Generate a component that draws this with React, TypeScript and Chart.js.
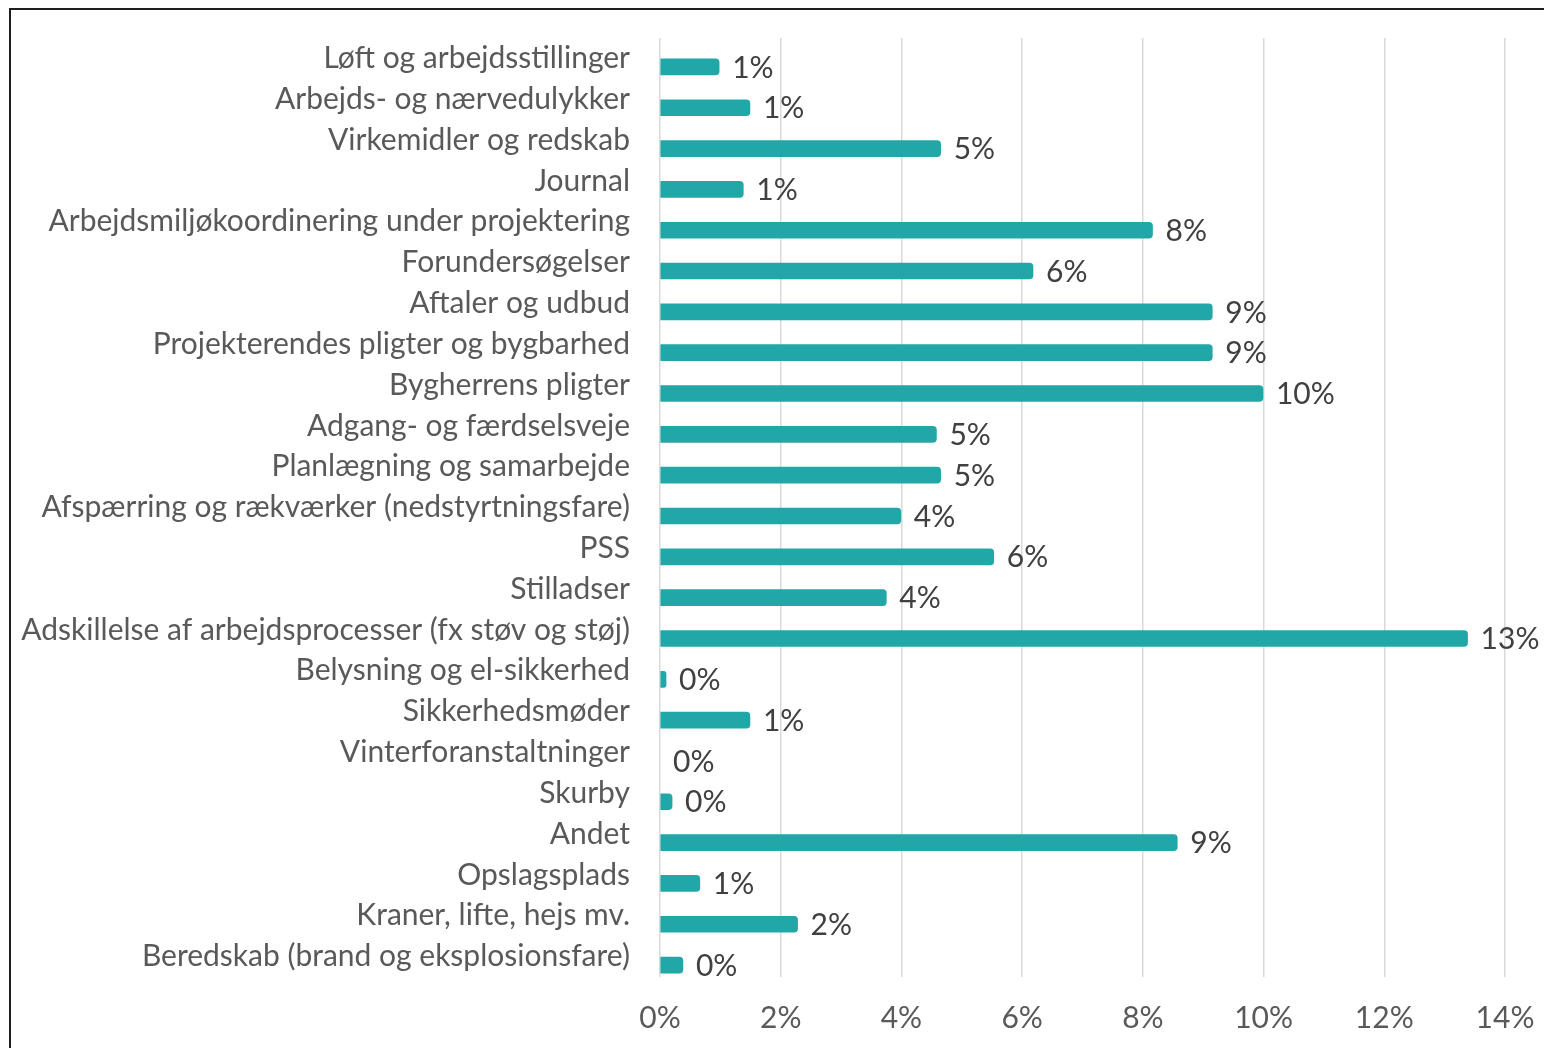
import React, { useEffect, useRef } from "react";
import { Chart, registerables } from "chart.js";

Chart.register(...registerables);

const categories: string[] = [
  "Løft og arbejdsstillinger",
  "Arbejds- og nærvedulykker",
  "Virkemidler og redskab",
  "Journal",
  "Arbejdsmiljøkoordinering under projektering",
  "Forundersøgelser",
  "Aftaler og udbud",
  "Projekterendes pligter og bygbarhed",
  "Bygherrens pligter",
  "Adgang- og færdselsveje",
  "Planlægning og samarbejde",
  "Afspærring og rækværker (nedstyrtningsfare)",
  "PSS",
  "Stilladser",
  "Adskillelse af arbejdsprocesser (fx støv og støj)",
  "Belysning og el-sikkerhed",
  "Sikkerhedsmøder",
  "Vinterforanstaltninger",
  "Skurby",
  "Andet",
  "Opslagsplads",
  "Kraner, lifte, hejs mv.",
  "Beredskab (brand og eksplosionsfare)",
];

const values: number[] = [
  0.98, 1.49, 4.65, 1.38, 8.16, 6.18, 9.15, 9.15, 9.99, 4.58, 4.65, 3.99,
  5.53, 3.75, 13.38, 0.1, 1.49, 0, 0.2, 8.57, 0.66, 2.28, 0.38,
];

const xMin = 0;
const xMax = 14;
const xStep = 2;

const FONT_FAMILY = "Lato, 'Open Sans', sans-serif";
const FONT_SIZE = 30;
const BAR_SHIFT = 8.5;
const BAR_COLOR = "#22A7A9";

export default function App() {
  const canvasRef = useRef<HTMLCanvasElement | null>(null);

  useEffect(() => {
    let chart: Chart | null = null;
    let cancelled = false;

    const valueLabelPlugin = {
      id: "valueLabels",
      beforeDatasetsDraw(c: any) {
        c.ctx.save();
        c.ctx.translate(0, BAR_SHIFT);
      },
      afterDatasetsDraw(c: any) {
        const ctx = c.ctx;
        const meta = c.getDatasetMeta(0);
        ctx.save();
        ctx.font = `${FONT_SIZE}px ${FONT_FAMILY}`;
        ctx.fillStyle = "#404040";
        ctx.textAlign = "left";
        ctx.textBaseline = "middle";
        meta.data.forEach((bar: any, i: number) => {
          const label = Math.round(values[i]) + "%";
          ctx.fillText(label, bar.x + 13, bar.y + 1);
        });
        ctx.restore();
        ctx.restore();
      },
    };

    const zeroPad = (s: any) => {
      s.paddingTop = 0;
      s.paddingBottom = 0;
      s.paddingLeft = 0;
      s.paddingRight = 0;
    };

    const make = () => {
      if (cancelled || !canvasRef.current) return;
      chart = new Chart(canvasRef.current, {
        type: "bar",
        data: {
          labels: categories,
          datasets: [
            {
              data: values,
              backgroundColor: values.map((v) => (v === 0 ? "rgba(0,0,0,0)" : BAR_COLOR)),
              barThickness: 16,
              borderRadius: 4,
              borderSkipped: "start",
            },
          ],
        },
        options: {
          indexAxis: "y",
          responsive: false,
          animation: false,
          devicePixelRatio: 1,
          layout: { padding: { top: 38, right: 39, left: 0, bottom: 0 } },
          plugins: {
            legend: { display: false },
            tooltip: { enabled: false },
          },
          scales: {
            x: {
              min: xMin,
              max: xMax,
              ticks: {
                stepSize: xStep,
                callback: (v: any) => v + "%",
                color: "#595959",
                font: { family: FONT_FAMILY, size: FONT_SIZE },
                padding: 23,
                maxRotation: 0,
              },
              grid: { color: "#d9d9d9", lineWidth: 1.5, drawTicks: false },
              border: { display: false },
              afterFit: (s: any) => {
                s.height = 71;
                zeroPad(s);
              },
            },
            y: {
              ticks: {
                color: "#595959",
                font: { family: FONT_FAMILY, size: FONT_SIZE },
                padding: 30,
                autoSkip: false,
              },
              grid: { display: false, drawTicks: false },
              border: { display: false },
              afterFit: (s: any) => {
                s.width = 660;
                zeroPad(s);
              },
            },
          },
        } as any,
        plugins: [valueLabelPlugin],
      });
    };

    const fontsReady = (document as any).fonts
      ? (document as any).fonts.load(`${FONT_SIZE}px Lato`).catch(() => null)
      : Promise.resolve();
    Promise.resolve(fontsReady).then(make);

    return () => {
      cancelled = true;
      if (chart) chart.destroy();
    };
  }, []);

  return (
    <div
      style={{
        position: "fixed",
        left: 0,
        top: 0,
        width: 1544,
        height: 1048,
        overflow: "hidden",
        background: "#ffffff",
      }}
    >
      <div
        style={{
          position: "absolute",
          left: 9,
          top: 8,
          width: 3000,
          height: 3000,
          borderTop: "2px solid #1e1e1e",
          borderLeft: "2px solid #1e1e1e",
        }}
      />
      <canvas
        ref={canvasRef}
        width={1544}
        height={1048}
        style={{ position: "absolute", left: 0, top: 0, width: 1544, height: 1048 }}
      />
    </div>
  );
}
